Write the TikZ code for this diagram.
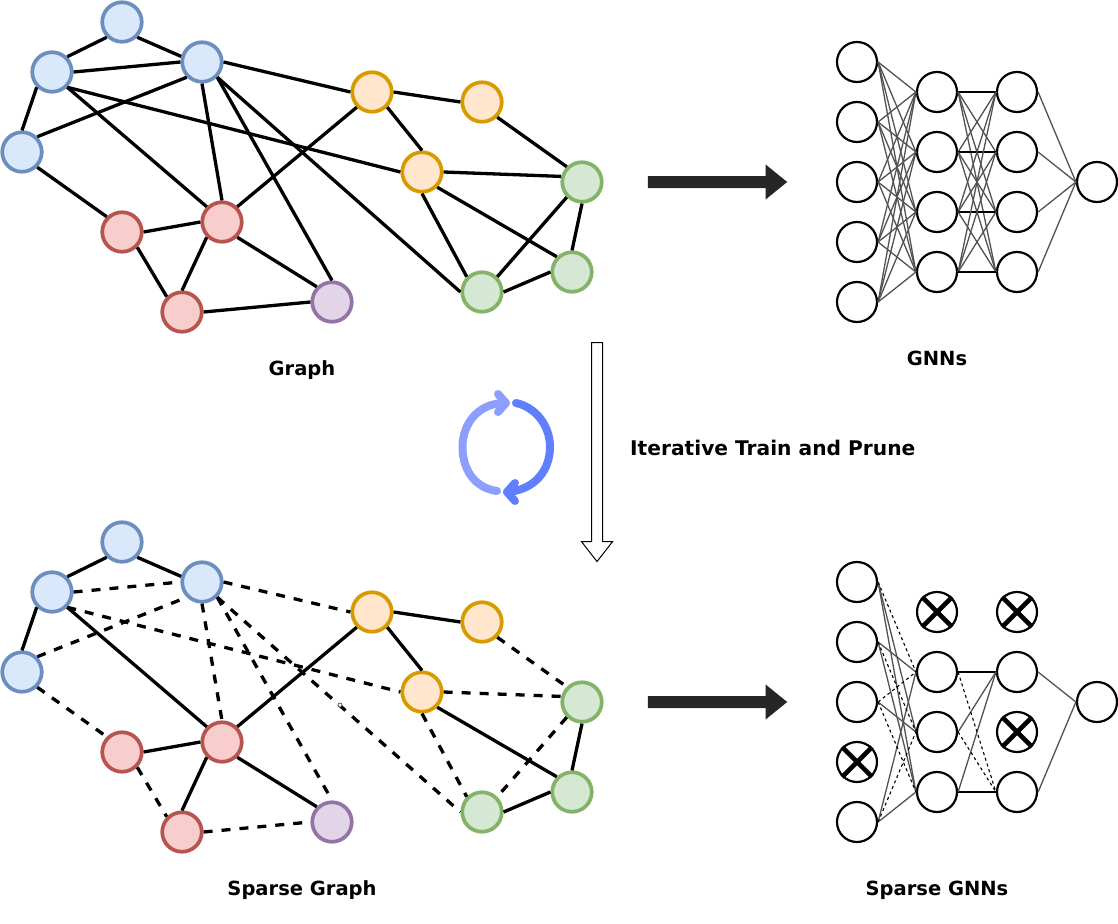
\documentclass[tikz,border=0pt]{standalone}
\usepackage{fontspec}
\setmainfont{DejaVu Sans}
\usetikzlibrary{shapes.arrows}
\definecolor{bluefill}{HTML}{DAE8FC}\definecolor{bluedraw}{HTML}{6C8EBF}
\definecolor{redfill}{HTML}{F8CECC}\definecolor{reddraw}{HTML}{B85450}
\definecolor{orangefill}{HTML}{FFE6CC}\definecolor{orangedraw}{HTML}{D79B00}
\definecolor{greenfill}{HTML}{D5E8D4}\definecolor{greendraw}{HTML}{82B366}
\definecolor{purplefill}{HTML}{E1D5E7}\definecolor{purpledraw}{HTML}{9673A6}
\definecolor{cycleA}{HTML}{8C9FFF}\definecolor{cycleB}{HTML}{5F7FFF}
\tikzset{
  gnode/.style={circle,inner sep=0pt,minimum size=39.5pt,line width=3.7pt},
  bluenode/.style={gnode,draw=bluedraw,fill=bluefill},
  rednode/.style={gnode,draw=reddraw,fill=redfill},
  orangenode/.style={gnode,draw=orangedraw,fill=orangefill},
  greennode/.style={gnode,draw=greendraw,fill=greenfill},
  purplenode/.style={gnode,draw=purpledraw,fill=purplefill},
  gedge/.style={line width=3.3pt,black},
  gdash/.style={line width=3.3pt,black,dash pattern=on 9pt off 9pt},
  nnode/.style={circle,draw=black,fill=white,inner sep=0pt,minimum size=40pt,line width=2.2pt},
  nedge/.style={line width=1.3pt,black!68},
  hedge/.style={line width=1.2pt,black},
  ndash/.style={line width=1.1pt,black,dash pattern=on 3pt off 3pt},
  xmark/.style={line width=4.6pt,black},
  caption/.style={font=\fontsize{19.5}{23}\selectfont\bfseries,inner sep=0pt,anchor=base},
  blockarrow/.style={single arrow,draw=black!85,fill=black!85,line width=1pt,inner xsep=0pt,inner ysep=5pt,
    minimum height=138pt,minimum width=32pt,single arrow head extend=11pt,single arrow tip angle=78},
  hollowarrow/.style={single arrow,draw=black,fill=white,line width=1pt,inner sep=5pt,shape border rotate=270,
    minimum height=219pt,minimum width=30pt,single arrow head extend=10pt,single arrow tip angle=76},
  cyclearc/.style={line width=8pt,line cap=round,line join=round},
}
\begin{document}
\begin{tikzpicture}[x=1pt,y=-1pt]
\useasboundingbox (0,0) rectangle (1118,923);
\fill[white] (0,0) rectangle (1118,923);

\foreach \p/\dy in {u/0,l/520}{
  \foreach \n/\x/\y/\s in {b1/122/22/bluenode,b2/52/72/bluenode,b3/202/62/bluenode,b4/22/152/bluenode,
    r1/122/232/rednode,r2/222/222/rednode,r3/182/312/rednode,pp/332/302/purplenode,
    o1/372/92/orangenode,o2/482/102/orangenode,o3/422/172/orangenode,
    g1/582/182/greennode,g2/572/272/greennode,g3/482/292/greennode}{
    \node[\s] (\p\n) at (\x,\y+\dy) {};
  }
}
% upper edges
\foreach \a/\m/\b/\t in {b2/45/b1/225,b1/315/b3/165,b2/0/b3/180,b2/225/b4/90,b4/45/b3/225,b2/315/o3/180,b2/315/r2/135,
  b3/270/r2/90,b3/315/pp/90,b3/315/g3/180,b3/0/o1/180,b4/315/r1/135,r1/0/r2/180,r1/315/r3/135,r2/225/r3/90,r2/315/pp/135,
  r3/0/pp/180,r2/45/o1/225,o1/0/o2/180,o1/315/o3/90,o2/315/g1/135,o3/0/g1/165,o3/315/g2/135,o3/270/g3/135,
  g1/225/g3/45,g1/270/g2/90,g2/180/g3/0}{
  \draw[gedge] (u\a.\m) -- (u\b.\t);
}
% lower edges
\foreach \a/\m/\b/\t in {b2/45/b1/225,b1/315/b3/165,b2/225/b4/90,b2/315/r2/135,r1/0/r2/180,r2/225/r3/90,r2/315/pp/135,
  r2/45/o1/225,o1/0/o2/180,o1/315/o3/90,o3/315/g2/135,g1/270/g2/90,g2/180/g3/0}{
  \draw[gedge] (l\a.\m) -- (l\b.\t);
}
\foreach \a/\m/\b/\t in {b2/0/b3/180,b4/45/b3/225,b2/315/o3/180,b3/270/r2/90,b3/315/pp/90,b3/315/g3/180,b3/0/o1/180,
  b4/315/r1/135,r1/315/r3/135,r3/0/pp/180,o2/315/g1/135,o3/0/g1/165,o3/270/g3/135,g1/225/g3/45}{
  \draw[gdash] (l\a.\m) -- (l\b.\t);
}
\node[circle,draw=black!70,fill=white,line width=0.7pt,inner sep=0pt,minimum size=4pt] (speck) at (340,705) {};

% upper network
\foreach \n/\x/\y in {a1/857/62,a2/857/122,a3/857/182,a4/857/242,a5/857/302,
  h1/937/92,h2/937/152,h3/937/212,h4/937/272,
  k1/1017/92,k2/1017/152,k3/1017/212,k4/1017/272,out/1097/182}{
  \node[nnode] (U\n) at (\x,\y) {};
}
\foreach \a in {a1,a2,a3,a4,a5}\foreach \b in {h1,h2,h3,h4}{
  \draw[nedge] (U\a.east) -- (U\b.west);
}
\foreach \a in {1,2,3,4}\foreach \b in {1,2,3,4}{
  \ifnum\a=\b
    \draw[hedge] (Uh\a.east) -- (Uk\b.west);
  \else
    \draw[nedge] (Uh\a.east) -- (Uk\b.west);
  \fi
}
\foreach \b in {k1,k2,k3,k4}{\draw[nedge] (U\b.east) -- (Uout.west);}

% lower network
\foreach \n/\x/\y in {a1/857/582,a2/857/642,a3/857/702,a4/857/762,a5/857/822,
  h1/937/672,h2/937/732,h3/937/792,hx/937/612,
  k1/1017/672,k3/1017/792,kx/1017/612,ky/1017/732,out/1097/702}{
  \node[nnode] (L\n) at (\x,\y) {};
}
\foreach \n in {La4,Lhx,Lkx,Lky}{
  \draw[xmark] (\n.45) -- (\n.225);
  \draw[xmark] (\n.135) -- (\n.315);
}
\foreach \a/\b in {a1/h2,a1/h3,a2/h1,a2/h3,a3/h2,a5/h1,a5/h3}{\draw[nedge] (L\a.east) -- (L\b.west);}
\foreach \a/\b in {a1/h1,a2/h2,a3/h1,a3/h3,a5/h2}{\draw[ndash] (L\a.east) -- (L\b.west);}
\foreach \a/\b in {h1/k1,h3/k3}{\draw[hedge] (L\a.east) -- (L\b.west);}
\foreach \a/\b in {h2/k1,h3/k1}{\draw[nedge] (L\a.east) -- (L\b.west);}
\foreach \a/\b in {h1/k3,h2/k3}{\draw[ndash] (L\a.east) -- (L\b.west);}
\foreach \b in {k1,k3}{\draw[nedge] (L\b.east) -- (Lout.west);}

% arrows
\node[blockarrow] (arrowtop) at (714,182) {};
\node[blockarrow] (arrowbottom) at (714,702) {};
\node[hollowarrow] (arrowdown) at (597,448.5) {};

% cycle
\draw[cyclearc,cycleA] (497,491) .. controls (475,488) and (462.5,470) .. (462.5,447)
   .. controls (462.5,424) and (478,403) .. (505,403);
\draw[cyclearc,cycleA] (498,394) -- (506,403) -- (498,412);
\draw[cyclearc,cycleB] (516,403) .. controls (535,407) and (550,425) .. (550,447)
   .. controls (550,470) and (535,490) .. (507,492);
\draw[cyclearc,cycleB] (515,483) -- (507,492) -- (515,501);

% labels
\node[caption] (capgraph) at (302,375) {Graph};
\node[caption] (capgnn) at (937,365) {GNNs};
\node[caption] (capsg) at (302,895) {Sparse Graph};
\node[caption] (capsgnn) at (937,895) {Sparse GNNs};
\node[caption,anchor=base west,font=\fontsize{20.2}{23}\selectfont\bfseries] (captrain) at (630,455) {Iterative Train and Prune};
\end{tikzpicture}
\end{document}
